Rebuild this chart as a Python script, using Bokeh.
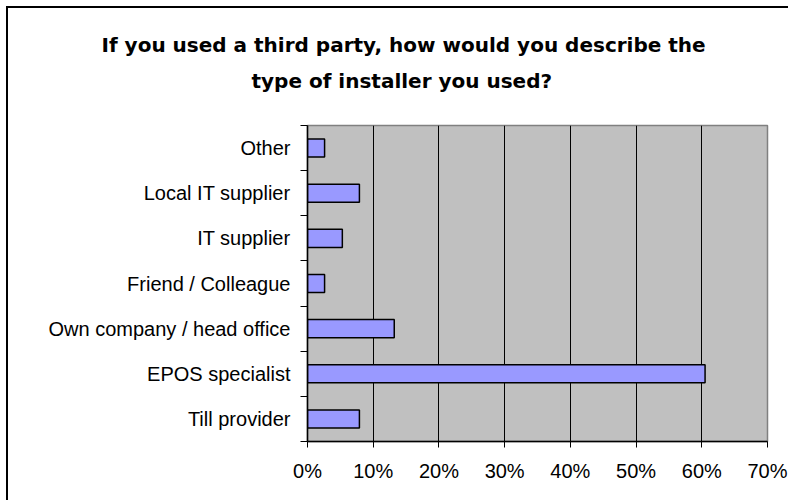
from bokeh.plotting import figure
from bokeh.models import FixedTicker, Title, NumeralTickFormatter, Range1d, ColumnDataSource
from bokeh.embed import file_html
from bokeh.resources import INLINE

# Data (bottom to top)
categories = ["Till provider", "EPOS specialist", "Own company / head office",
              "Friend / Colleague", "IT supplier", "Local IT supplier", "Other"]
shares = [0.079, 0.605, 0.132, 0.026, 0.053, 0.079, 0.026]
x_ticks = [0.0, 0.1, 0.2, 0.3, 0.4, 0.5, 0.6, 0.7]
title_lines = ["If you used a third party, how would you describe the",
               "type of installer you used?"]

ypos = [i + 0.5 for i in range(len(categories))]
src = ColumnDataSource(dict(y=ypos, right=shares, cat=categories))

W, H = 782, 494
FL, FR, FT, FB = 299, 23, 117, 61
p = figure(width=W, height=H, output_backend="svg", toolbar_location=None,
           x_range=Range1d(0, 0.7), y_range=Range1d(0, len(categories)),
           min_border_left=FL, min_border_right=FR,
           min_border_top=FT, min_border_bottom=FB)

p.background_fill_color = "#C0C0C0"
p.border_fill_color = "white"
p.outline_line_color = "#808080"
p.outline_line_width = 1.5

p.hbar(y="y", left=0, right="right", height=0.4, source=src,
       fill_color="#9999FF", line_color="black", line_width=1.5)

# grid
p.ygrid.visible = False
p.xgrid.ticker = FixedTicker(ticks=x_ticks)
p.xgrid.grid_line_color = "black"
p.xgrid.grid_line_width = 1

# x axis
p.xaxis.ticker = FixedTicker(ticks=x_ticks)
p.xaxis.formatter = NumeralTickFormatter(format="0%")
p.xaxis.major_label_text_font = "Liberation Sans"
p.xaxis.major_label_text_font_size = "20px"
p.xaxis.major_label_text_color = "black"
p.xaxis.major_tick_out = 6
p.xaxis.major_tick_in = 0
p.xaxis.minor_tick_line_color = None
p.xaxis.axis_line_color = "black"
p.xaxis.axis_line_width = 1.5
p.xaxis.major_label_standoff = 12

# y axis: labels at category centers, ticks between categories
p.yaxis.ticker = FixedTicker(ticks=ypos, minor_ticks=list(range(len(categories) + 1)))
p.yaxis.major_label_overrides = {y: c for y, c in zip(ypos, categories)}
p.yaxis.major_label_text_font = "Liberation Sans"
p.yaxis.major_label_text_font_size = "20px"
p.yaxis.major_label_text_color = "black"
p.yaxis.major_tick_line_color = None
p.yaxis.major_tick_out = 0
p.yaxis.major_tick_in = 0
p.yaxis.minor_tick_line_color = "black"
p.yaxis.minor_tick_out = 7
p.yaxis.minor_tick_in = 0
p.yaxis.axis_line_color = "black"
p.yaxis.axis_line_width = 1.5
p.yaxis.major_label_standoff = 10

# spacer between frame and title lines
p.add_layout(Title(text=" ", text_font_size="20px", standoff=4), "above")
# title: two lines, centered over the whole chart (offsets relative to frame left)
title_left = [-206, -56]
for t, off in reversed(list(zip(title_lines, title_left))):
    p.add_layout(Title(text=t, align="left", offset=off,
                       text_font="DejaVu Sans", text_font_style="bold",
                       text_font_size="20px", text_color="black", standoff=10), "above")

p.margin = (8, 0, 0, 8)
p.styles = {"box-shadow": "-2px -2px 0 0 black"}

open("out.html", "w").write(file_html(p, INLINE))
